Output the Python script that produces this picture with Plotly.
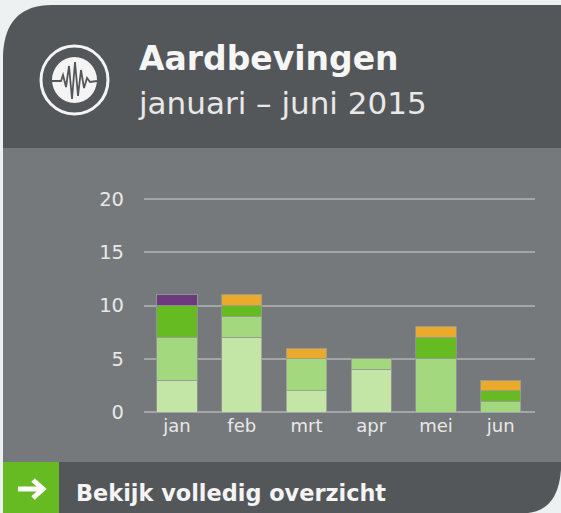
import plotly.graph_objects as go

months = ["jan", "feb", "mrt", "apr", "mei", "jun"]
lightest = [3, 7, 2, 4, 0, 0]
light = [4, 2, 3, 1, 5, 1]
green = [3, 1, 0, 0, 2, 1]
orange = [0, 1, 1, 0, 1, 1]
purple = [1, 0, 0, 0, 0, 0]
y_ticks = [0, 5, 10, 15, 20]

W, H = 561, 513
L, R, T, B = 144, 535, 190, 412
PW, PH = R - L, B - T
FONT = "DejaVu Sans"


def px(x):
    return (x - L) / PW


def py(y):
    return (B - y) / PH


def path(pts):
    """Build an SVG path in paper coordinates from pixel commands."""
    out = []
    for p in pts:
        if len(p) == 1:
            out.append(p[0])
        elif len(p) == 3:
            out.append(f"{p[0]} {px(p[1]):.5f},{py(p[2]):.5f}")
        else:
            out.append(
                f"{p[0]} {px(p[1]):.5f},{py(p[2]):.5f} {px(p[3]):.5f},{py(p[4]):.5f}"
            )
    return " ".join(out)


def line(points, color, width):
    cmds = [("M", *points[0])] + [("L", *q) for q in points[1:]]
    return dict(type="path", xref="paper", yref="paper", path=path(cmds), layer="above",
                line=dict(color=color, width=width), fillcolor="rgba(0,0,0,0)")


HEADER = "#54575a"
BODY = "#76797b"
GREEN = "#66bb23"
NOLINE = dict(width=0)

shapes = [
    dict(type="rect", xref="paper", yref="paper", x0=px(0), x1=px(W), y0=py(H), y1=py(0),
         fillcolor="#eef1f1", line=NOLINE, layer="below"),
    dict(type="rect", xref="paper", yref="paper", x0=px(3), x1=px(W), y0=py(470), y1=py(140),
         fillcolor=BODY, line=NOLINE, layer="below"),
    dict(type="path", xref="paper", yref="paper", layer="below", fillcolor=HEADER, line=NOLINE,
         path=path([("M", 3, 148), ("L", 3, 55), ("Q", 5, 5, 52, 5), ("L", W, 5), ("L", W, 148), ("Z",)])),
    dict(type="path", xref="paper", yref="paper", layer="below", fillcolor=HEADER, line=NOLINE,
         path=path([("M", 59, 462), ("L", W, 462), ("L", W, 470), ("Q", 558, 510, 528, H), ("L", 59, H), ("Z",)])),
    dict(type="rect", xref="paper", yref="paper", x0=px(3), x1=px(59), y0=py(H), y1=py(462),
         fillcolor=GREEN, line=NOLINE, layer="below"),
    dict(type="circle", xref="paper", yref="paper", x0=px(41), x1=px(108), y0=py(114), y1=py(46),
         fillcolor="rgba(0,0,0,0)", line=dict(color="#f4f4f4", width=3), layer="above"),
    dict(type="circle", xref="paper", yref="paper", x0=px(52), x1=px(97), y0=py(103), y1=py(57),
         fillcolor="#f4f4f4", line=NOLINE, layer="above"),
    line([(52, 81), (61, 81), (63, 75), (66, 87), (69, 66), (72, 99), (75, 62), (78, 96), (81, 70),
          (84, 88), (87, 78), (90, 82), (97, 81)], HEADER, 1.8),
    line([(18, 489), (41, 489)], "white", 5),
    line([(33, 480), (43, 489), (33, 498)], "white", 5),
]

annotations = [
    dict(text="<b>Aardbevingen</b>", x=px(137), y=py(58), font=dict(size=33, color="#f6f6f6", family=FONT)),
    dict(text="januari – juni 2015", x=px(136), y=py(103), font=dict(size=31, color="#e8e8e8", family=FONT)),
    dict(text="<b>Bekijk volledig overzicht</b>", x=px(74), y=py(493), font=dict(size=22.4, color="#f4f4f4", family=FONT)),
]
for a in annotations:
    a.update(xref="paper", yref="paper", xanchor="left", yanchor="middle", showarrow=False)

fig = go.Figure()
for vals, col in [(lightest, "#c3e5a5"), (light, "#a4d87e"), (green, GREEN), (orange, "#ecaa2c"), (purple, "#6d3a7d")]:
    fig.add_bar(x=months, y=vals, marker=dict(color=col, line=dict(color="rgba(150,155,150,0.8)", width=1)),
                hoverinfo="skip", showlegend=False)

fig.update_layout(
    barmode="stack",
    bargap=0.38,
    width=W,
    height=H,
    margin=dict(l=L, r=W - R, t=T, b=H - B, pad=0),
    paper_bgcolor="#eef1f1",
    plot_bgcolor="rgba(0,0,0,0)",
    shapes=shapes,
    annotations=annotations,
    font=dict(family=FONT),
    xaxis=dict(range=[-0.51, 5.53], showgrid=False, showline=False, zeroline=False, ticks="",
               tickfont=dict(size=18, color="#e8e8e8"), ticklabelstandoff=1),
    yaxis=dict(range=[0, 20.85], tickvals=y_ticks, gridcolor="#a3a5a6", gridwidth=2, zeroline=True,
               zerolinecolor="#a3a5a6", zerolinewidth=2, showline=False, ticks="",
               tickfont=dict(size=19.5, color="#e8e8e8"), ticklabelstandoff=19),
)
fig.write_html("out.html", config=dict(displayModeBar=False),
               post_script="document.body.style.margin='0';document.body.style.overflow='hidden';")
